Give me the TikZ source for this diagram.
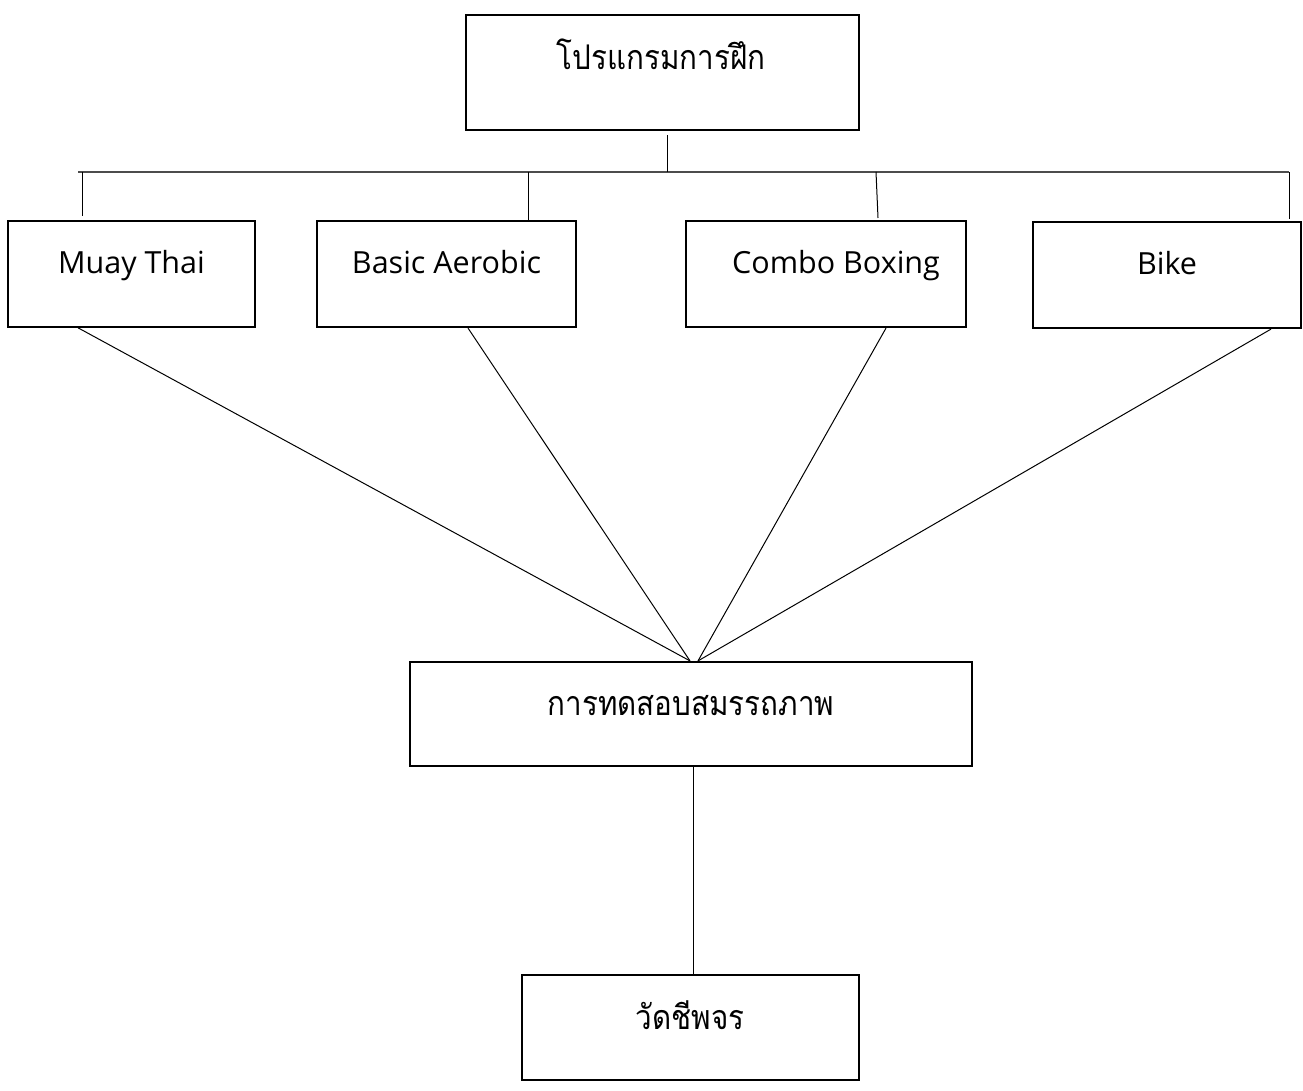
\documentclass[tikz,border=0pt]{standalone}
\usepackage{fontspec}
\setmainfont{Open Sans}
\newfontfamily\thai[Script=Thai,FakeStretch=0.87]{Loma}
\begin{document}
\begin{tikzpicture}[x=1pt,y=-1pt,
  box/.style={draw=black, line width=2.2pt, rectangle, inner sep=0pt},
  lat/.style={font=\fontsize{30.5}{36}\selectfont, anchor=base, inner sep=0pt},
  th/.style={font=\thai\fontsize{34}{40}\selectfont, anchor=base, inner sep=0pt},
  conn/.style={draw=black, line width=1pt},
  bus/.style={draw=black!70, line width=1.5pt}]
\useasboundingbox (0,0) rectangle (1303,1091);
\fill[white] (0,0) rectangle (1303,1091);
% boxes
\node[box, minimum width=393pt, minimum height=115pt] (top) at (662.5,72.5) {};
\node[th] (topt) at (661,70) {โปรแกรมการฝึก};
\node[box, minimum width=247pt, minimum height=106pt] (mt) at (131.5,273.7) {};
\node[lat] (mtt) at (131.5,273) {Muay Thai};
\node[box, minimum width=259pt, minimum height=106pt] (ba) at (446.5,274) {};
\node[lat] (bat) at (446.5,273) {Basic Aerobic};
\node[box, minimum width=280pt, minimum height=106pt] (cb) at (826,274) {};
\node[lat] (cbt) at (836,273) {Combo Boxing};
\node[box, minimum width=268pt, minimum height=106pt] (bk) at (1167,275) {};
\node[lat] (bkt) at (1167,275) {Bike};
\node[box, minimum width=562pt, minimum height=104pt] (mid) at (691,714) {};
\node[th] (midt) at (691,715) {การทดสอบสมรรถภาพ};
\node[box, minimum width=337pt, minimum height=105pt] (bot) at (690.5,1027.5) {};
\node[th] (bott) at (690,1029) {วัดชีพจร};
% bus
\coordinate (bl) at (78,172);
\coordinate (br) at (1289,172);
\coordinate (bm) at (667,172);
\coordinate (d1) at (82,172);
\coordinate (d2) at (528,172);
\coordinate (d3) at (876,172);
\draw[bus] (bl) -- (br);
\draw[conn] (top.south -| bm) ++(0,4) -- (bm);
\draw[conn] (d1) -- (82,216);
\draw[conn] (d2) -- (ba.north -| d2);
\draw[conn] (d3) -- (878,218);
\draw[conn] (br) -- (1289,219);
% diagonals
\coordinate (pl) at (690,0);
\coordinate (pr) at (698,0);
\coordinate (s1) at (78,0);
\coordinate (s2) at (468,0);
\coordinate (s3) at (886,0);
\coordinate (s4) at (1271,0);
\coordinate (v) at (693,0);
\draw[conn] (mt.south -| s1) -- (mid.north -| pl);
\draw[conn] (ba.south -| s2) -- (mid.north -| pl);
\draw[conn] (cb.south -| s3) -- (mid.north -| pr);
\draw[conn] (bk.south -| s4) -- (mid.north -| pr);
% lower
\draw[conn] (mid.south -| v) -- (bot.north -| v);
\end{tikzpicture}
\end{document}
